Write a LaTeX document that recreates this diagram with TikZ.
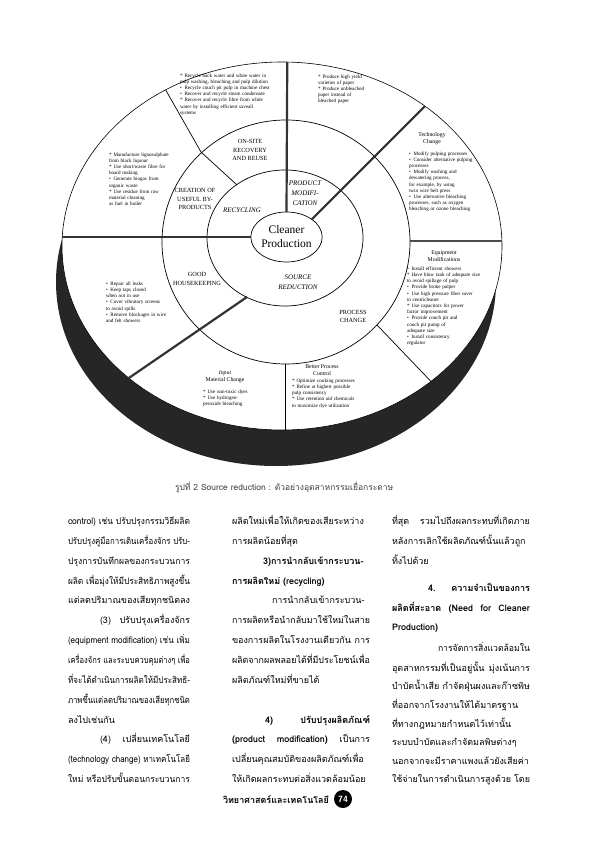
\documentclass[tikz,border=0pt]{standalone}
\usepackage{graphicx}
\usepackage{fontspec}
\setmainfont{Liberation Serif}
\newfontfamily\thaifont[Script=Thai]{Loma}
\usetikzlibrary{shapes.geometric,calc}
\XeTeXlinebreaklocale "th"
\XeTeXlinebreakskip=0pt plus 2pt
\newcommand\itm{\par\hangindent=4.5pt\hangafter=1\noindent\makebox[4.5pt][l]{\textbullet}}
\newcommand\ita{\par\hangindent=4.5pt\hangafter=1\noindent\makebox[4.5pt][l]{*}}
\newcommand\jline[2]{\sbox0{#2}\ifdim\wd0>#1\relax\pgfmathsetmacro\jsc{#1/\the\wd0}\scalebox{\jsc}[1]{\usebox0}\else\makebox[#1][s]{#2}\fi}
\begin{document}
\begin{tikzpicture}[x=1pt,y=-1pt,
  every node/.style={inner sep=0pt, outer sep=0pt},
  thickln/.style={line width=2.2pt, black!80},
  thinln/.style={line width=0.7pt},
  ringln/.style={line width=0.7pt},
  ringlbl/.style={font=\fontsize{6.3}{8.3}\selectfont, align=center},
  itlbl/.style={font=\fontsize{7}{10}\selectfont\itshape, align=center},
  bul/.style={font=\fontsize{5.1}{6.2}\selectfont, align=left, anchor=north west, text width=110pt},
  hd/.style={font=\fontsize{5.8}{6.8}\selectfont, align=center},
  th/.style={font=\thaifont\fontsize{9}{10}\selectfont, anchor=base west},
  thb/.style={font=\thaifont\bfseries\fontsize{9}{10}\selectfont, anchor=base west},
]
\useasboundingbox (0,0) rectangle (595,842);
\fill[white] (0,0) rectangle (595,842);
\def\frx{220pt}\def\fry{184pt}
\coordinate (E) at (282,246);
% disc side (dark band) and top face
\fill[black!85] ($(E)+(-6,36)$) ellipse [x radius=\frx, y radius=\fry];
\filldraw[fill=white, draw=black, line width=0.6pt] (E) ellipse [x radius=\frx, y radius=\fry];
% rings
\draw[ringln] (286,242) ellipse [x radius=124pt, y radius=122pt];
\draw[ringln] (285,238) ellipse [x radius=78pt, y radius=68pt];
\node[ellipse, draw, line width=0.7pt, fill=white, minimum width=66pt, minimum height=50pt,
      font=\fontsize{11.5}{14}\selectfont, align=center] (cp) at (286.5,237) {Cleaner\\Production};
% ring points
\coordinate (mUL) at (237,185);
\coordinate (rUL) at (201,152);
\coordinate (mLL) at (247,297);
\coordinate (rB) at (285,364);
\coordinate (rLR) at (377,325);
\coordinate (rR) at (410,241);
\begin{scope}
\clip (E) ellipse [x radius=\frx, y radius=\fry];
\draw[thickln] (cp.north) -- ++(1.5,-300);
\draw[thickln] (cp.35) -- ++(250,-250);
\draw[thickln] (cp.west) -- ++(-300,0);
\draw[thinln] (mUL) -- (rUL) -- ($(rUL)!3!(160,80)$);
\draw[thickln] (mLL) -- ($(mLL)!4!(177,345)$);
\draw[thinln] (rB) -- ++(0,120);
\draw[thinln] (rLR) -- ($(rLR)!4!(420,370)$);
\draw[line width=1.8pt, black!70] (rR) -- ++(150,0);
\end{scope}
% ring labels
\node[ringlbl] (onsite) at (250,150) {ON-SITE\\RECOVERY\\AND REUSE};
\node[ringlbl] (creation) at (195,199) {CREATION OF\\USEFUL BY-\\PRODUCTS};
\node[ringlbl] (goodhk) at (197,279) {GOOD\\HOUSEKEEPING};
\node[ringlbl] (process) at (353,316.5) {PROCESS\\CHANGE};
\node[itlbl] (recyc) at (242,210) {RECYCLING};
\node[itlbl] (prodmod) at (305,193) {PRODUCT\\MODIFI-\\CATION};
\node[itlbl] (srcred) at (298,282) {SOURCE\\REDUCTION};
% outer bullet texts
\node[bul] (b1) at (180,71) {\ita Recycle back water and white water in\\pulp washing, bleaching and pulp dilution
\itm Recycle couch pit pulp in machine chest
\itm Recover and recycle steam condensate
\ita Recover and recycle fibre from white\\water by installing efficient saveall\\systems};
\node[bul] (b2) at (318,72) {\ita Produce high yield\\varieties of paper
\ita Produce unbleached\\paper instead of\\bleached paper};
\node[hd] (h3) at (432,139) {Technology\\Change};
\node[bul] (b3) at (409,149) {\itm Modify pulping processes
\itm Consider alternative pulping\\processes
\itm Modify washing and\\dewatering process,\\for example, by using\\twin wire belt press
\itm Use alternative bleaching\\processes, such as oxygen\\bleaching or ozone bleaching};
\node[hd] (h4) at (444,256) {Equipment\\Modifications};
\node[bul] (b4) at (407,264) {\itm Install efficient showers
\ita Have blow tank of adequate size\\to avoid spillage of pulp
\itm Provide broke pulper
\itm Use high pressure fiber saver\\in centricleaner
\ita Use capacitors for power\\factor improvement
\itm Provide couch pit and\\couch pit pump of\\adequate size
\itm Install consistency\\regulator};
\node[hd] (h5) at (322,370) {Better Process\\Control};
\node[bul] (b5) at (292,376) {\ita Optimize cooking processes
\ita Refine at highest possible\\pulp consistency
\ita Use retention aid chemicals\\to maximize dye utilization};
\node[hd] (h6) at (225,377) {\itshape Input\\Material Change};
\node[bul] (b6) at (203,387) {\ita Use non-toxic dyes
\ita Use hydrogen-\\peroxide bleaching};
\node[bul] (b7) at (106,279) {\itm Repair all leaks
\itm Keep taps closed\\when not in use
\itm Cover vibratory screens\\to avoid spills
\itm Remove blockages in wire\\and felt showers};
\node[bul] (b8) at (109,150) {\ita Manufacture lignosulphate\\from black liquour
\ita Use short/waste fibre for\\board making
\itm Generate biogas from\\organic waste
\ita Use residue from raw\\material cleaning\\as fuel in boiler};
% caption
\node[font=\thaifont\fontsize{8.5}{10}\selectfont, text=black!75, anchor=base west] (cap) at (175,490) {รูปที่ 2 Source reduction : ตัวอย่างอุตสาหกรรมเยื่อกระดาษ};
% column 1
\node[th] (c1a) at (68,524.5) {\jline{122pt}{control) เช่น ปรับปรุงกรรมวิธีผลิต}};
\node[th] (c1b) at (68,544.35) {\jline{122pt}{ปรับปรุงคู่มือการเดินเครื่องจักร ปรับ-}};
\node[th] (c1c) at (68,564.2) {\jline{122pt}{ปรุงการบันทึกผลของกระบวนการ}};
\node[th] (c1d) at (68,584.05) {\jline{122pt}{ผลิต เพื่อมุ่งให้มีประสิทธิภาพสูงขึ้น}};
\node[th] (c1e) at (68,603.9) {แต่ลดปริมาณของเสียทุกชนิดลง};
\node[th] (c1f) at (100,623.75) {\jline{90pt}{(3) ปรับปรุงเครื่องจักร}};
\node[th] (c1g) at (68,643.6) {\jline{122pt}{(equipment modification) เช่น เพิ่ม}};
\node[th] (c1h) at (68,663.45) {\jline{122pt}{เครื่องจักร และระบบควบคุมต่างๆ เพื่อ}};
\node[th] (c1i) at (68,683.3) {\jline{122pt}{ที่จะได้ดำเนินการผลิตให้มีประสิทธิ-}};
\node[th] (c1j) at (68,703.15) {\jline{122pt}{ภาพขึ้นแต่ลดปริมาณของเสียทุกชนิด}};
\node[th] (c1k) at (68,723) {ลงไปเช่นกัน};
\node[th] (c1l) at (100,742.85) {\jline{90pt}{(4) เปลี่ยนเทคโนโลยี}};
\node[th] (c1m) at (68,762.7) {\jline{122pt}{(technology change) หาเทคโนโลยี}};
\node[th] (c1n) at (68,782.55) {\jline{122pt}{ใหม่ หรือปรับขั้นตอนกระบวนการ}};
% column 2
\node[th] (c2a) at (232,524.5) {\jline{138pt}{ผลิตใหม่เพื่อให้เกิดของเสียระหว่าง}};
\node[th] (c2b) at (232,544.35) {การผลิตน้อยที่สุด};
\node[thb] (c2c) at (263,564.2) {\jline{107pt}{3)การนำกลับเข้ากระบวน-}};
\node[thb] (c2d) at (232,584.05) {การผลิตใหม่ (recycling)};
\node[th] (c2e) at (272,603.9) {\jline{98pt}{การนำกลับเข้ากระบวน-}};
\node[th] (c2f) at (232,623.75) {\jline{138pt}{การผลิตหรือนำกลับมาใช้ใหม่ในสาย}};
\node[th] (c2g) at (232,643.6) {\jline{138pt}{ของการผลิตในโรงงานเดียวกัน การ}};
\node[th] (c2h) at (232,663.45) {\jline{138pt}{ผลิตจากผลพลอยได้ที่มีประโยชน์เพื่อ}};
\node[th] (c2i) at (232,683.3) {ผลิตภัณฑ์ใหม่ที่ขายได้};
\node[thb] (c2k) at (265,723) {\jline{105pt}{4) ปรับปรุงผลิตภัณฑ์}};
\node[th] (c2l) at (232,742.85) {\jline{138pt}{{\bfseries(product modification)} เป็นการ}};
\node[th] (c2m) at (232,762.7) {\jline{138pt}{เปลี่ยนคุณสมบัติของผลิตภัณฑ์เพื่อ}};
\node[th] (c2n) at (232,782.55) {\jline{138pt}{ให้เกิดผลกระทบต่อสิ่งแวดล้อมน้อย}};
% column 3
\node[th] (c3a) at (392,524.5) {\jline{138pt}{ที่สุด รวมไปถึงผลกระทบที่เกิดภาย}};
\node[th] (c3b) at (392,544.5) {\jline{138pt}{หลังการเลิกใช้ผลิตภัณฑ์นั้นแล้วถูก}};
\node[th] (c3c) at (392,564.5) {ทิ้งไปด้วย};
\node[thb] (c3d) at (428,591.5) {\jline{102pt}{4. ความจำเป็นของการ}};
\node[thb] (c3e) at (392,611.5) {\jline{138pt}{ผลิตที่สะอาด (Need for Cleaner}};
\node[thb] (c3f) at (392,630.5) {Production)};
\node[th] (c3g) at (438,651.5) {\jline{92pt}{การจัดการสิ่งแวดล้อมใน}};
\node[th] (c3h) at (392,671.5) {\jline{138pt}{อุตสาหกรรมที่เป็นอยู่นั้น มุ่งเน้นการ}};
\node[th] (c3i) at (392,689.5) {\jline{138pt}{บำบัดน้ำเสีย กำจัดฝุ่นผงและก๊าซพิษ}};
\node[th] (c3j) at (392,708.5) {\jline{138pt}{ที่ออกจากโรงงานให้ได้มาตรฐาน}};
\node[th] (c3k) at (392,727.5) {\jline{138pt}{ที่ทางกฎหมายกำหนดไว้เท่านั้น}};
\node[th] (c3l) at (392,745.5) {\jline{138pt}{ระบบบำบัดและกำจัดมลพิษต่างๆ}};
\node[th] (c3m) at (392,764.5) {\jline{138pt}{นอกจากจะมีราคาแพงแล้วยังเสียค่า}};
\node[th] (c3n) at (392,782.5) {\jline{138pt}{ใช้จ่ายในการดำเนินการสูงด้วย โดย}};
% footer
\node[font=\thaifont\bfseries\fontsize{9}{10}\selectfont, anchor=base east] (ft) at (329,803) {วิทยาศาสตร์และเทคโนโลยี};
\node[circle, fill=black, minimum size=18pt, text=white, font=\sffamily\bfseries\fontsize{9}{10}\selectfont] (pg) at (343,799) {74};
\end{tikzpicture}
\end{document}
